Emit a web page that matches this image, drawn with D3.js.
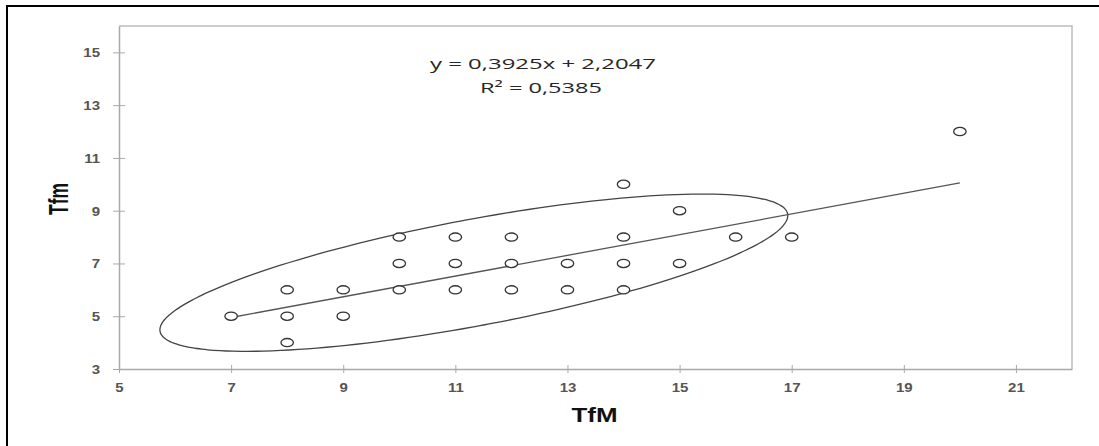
<!DOCTYPE html>
<html>
<head>
<meta charset="utf-8">
<script src="https://cdn.jsdelivr.net/npm/d3@7"></script>
<style>
  body { margin: 0; background: #fff; }
  svg { display: block; font-family: "Liberation Sans", Arial, sans-serif; }
</style>
</head>
<body>
<div id="root"></div>
<script>
// TfM vs Tfm values
const tfM = [7, 8, 8, 8, 9, 9, 10, 10, 10, 11, 11, 11, 12, 12, 12, 13, 13, 14, 14, 14, 14, 15, 15, 16, 17, 20];
const tfm = [5, 6, 5, 4, 6, 5, 8, 7, 6, 8, 7, 6, 8, 7, 6, 7, 6, 10, 8, 7, 6, 9, 7, 8, 8, 12];

const xTicks = [5, 7, 9, 11, 13, 15, 17, 19, 21];
const yTicks = [3, 5, 7, 9, 11, 13, 15];

// linear fit shown on the chart
const slope = 0.3925;
const intercept = 2.2047;
const rSquared = 0.5385;

// hand drawn ellipse: centre, half extents and tilt (correlation), in data units
const ellCentre = [11.33, 6.65];
const ellHalf = [5.6, 2.981];
const ellTilt = 0.726;

const width = 1099;
const height = 446;

const svg = d3.select("#root").append("svg")
  .attr("width", width)
  .attr("height", height);

// outer frame (only left and top visible)
svg.append("rect")
  .attr("x", 7).attr("y", 6)
  .attr("width", 1300).attr("height", 700)
  .attr("fill", "none")
  .attr("stroke", "#000")
  .attr("stroke-width", 2);

const x = d3.scaleLinear().domain([5, 22]).range([119, 1072]);
const y = d3.scaleLinear().domain([3, 16]).range([369, 26]);

const gridCol = "#a9a9a9";
const labCol = "#555";

// plot border top + right
svg.append("path")
  .attr("d", `M${x(5)},${y(16)}H${x(22)}V${y(3)}`)
  .attr("fill", "none")
  .attr("stroke", "#bdbdbd")
  .attr("stroke-width", 1.5);

const sx = 1.25; // the picture is stretched sideways

// x axis
const xAxis = svg.append("g")
  .attr("transform", `translate(0,${y(3)})`)
  .call(d3.axisBottom(x).tickValues(xTicks).tickSize(0));
xAxis.select(".domain").attr("stroke", gridCol).attr("stroke-width", 1.5);
xAxis.selectAll(".tick line")
  .attr("y1", -4).attr("y2", 4)
  .attr("stroke", gridCol);
xAxis.selectAll(".tick text")
  .attr("y", 23).attr("dy", 0)
  .attr("transform", `scale(${sx},1)`)
  .attr("fill", labCol)
  .style("font-size", "12px")
  .style("font-weight", "bold")
  .style("font-family", "'Liberation Sans', Arial, sans-serif");

// y axis
const yAxis = svg.append("g")
  .attr("transform", `translate(${x(5)},0)`)
  .call(d3.axisLeft(y).tickValues(yTicks).tickSize(0));
yAxis.select(".domain").attr("stroke", gridCol).attr("stroke-width", 1.5);
yAxis.selectAll(".tick line")
  .attr("x1", -6).attr("x2", 6)
  .attr("stroke", gridCol);
yAxis.selectAll(".tick text")
  .attr("x", -19 / sx).attr("dy", "0.36em")
  .attr("transform", `scale(${sx},1)`)
  .attr("fill", labCol)
  .style("font-size", "12px")
  .style("font-weight", "bold")
  .style("font-family", "'Liberation Sans', Arial, sans-serif");

// ellipse annotation
const ts = d3.range(0, 2 * Math.PI, Math.PI / 90);
const ellLine = d3.line()
  .x(t => x(ellCentre[0] + ellHalf[0] * Math.cos(t)))
  .y(t => y(ellCentre[1] + ellHalf[1] * (ellTilt * Math.cos(t) + Math.sqrt(1 - ellTilt * ellTilt) * Math.sin(t))))
  .curve(d3.curveCardinalClosed);
svg.append("path")
  .attr("d", ellLine(ts))
  .attr("fill", "none")
  .attr("stroke", "#444")
  .attr("stroke-width", 1.3);

// trend line
const xMin = d3.min(tfM), xMax = d3.max(tfM);
svg.append("line")
  .attr("x1", x(xMin)).attr("y1", y(slope * xMin + intercept))
  .attr("x2", x(xMax)).attr("y2", y(slope * xMax + intercept))
  .attr("stroke", "#555")
  .attr("stroke-width", 1.3);

// points
svg.selectAll(".pt")
  .data(tfM.map((v, i) => [v, tfm[i]]))
  .join("ellipse")
  .attr("class", "pt")
  .attr("cx", d => x(d[0]))
  .attr("cy", d => y(d[1]))
  .attr("rx", 6.2)
  .attr("ry", 4.1)
  .attr("fill", "#fff")
  .attr("stroke", "#333")
  .attr("stroke-width", 1.3);

// equation
const fmt = v => String(v).replace(".", ",");
svg.append("text")
  .attr("x", 543).attr("y", 69)
  .attr("text-anchor", "middle")
  .attr("textLength", 226)
  .attr("lengthAdjust", "spacingAndGlyphs")
  .attr("fill", "#262626")
  .style("font-family", "'Open Sans', sans-serif")
  .style("font-size", "15px")
  .text(`y = ${fmt(slope)}x + ${fmt(intercept)}`);
svg.append("text")
  .attr("x", 541).attr("y", 93)
  .attr("text-anchor", "middle")
  .attr("textLength", 122)
  .attr("lengthAdjust", "spacingAndGlyphs")
  .attr("fill", "#262626")
  .style("font-family", "'Open Sans', sans-serif")
  .style("font-size", "15px")
  .text(`R² = ${fmt(rSquared)}`);

// axis titles
svg.append("text")
  .attr("x", 594.5).attr("y", 422)
  .attr("text-anchor", "middle")
  .attr("textLength", 46)
  .attr("lengthAdjust", "spacingAndGlyphs")
  .attr("fill", "#111")
  .style("font-size", "21px")
  .style("font-weight", "bold")
  .text("TfM");

svg.append("text")
  .attr("transform", "translate(68,199) scale(1.5,1) rotate(-90)")
  .attr("text-anchor", "middle")
  .attr("textLength", 32)
  .attr("lengthAdjust", "spacingAndGlyphs")
  .attr("fill", "#111")
  .style("font-size", "18px")
  .style("font-weight", "bold")
  .text("Tfm");
</script>
</body>
</html>
